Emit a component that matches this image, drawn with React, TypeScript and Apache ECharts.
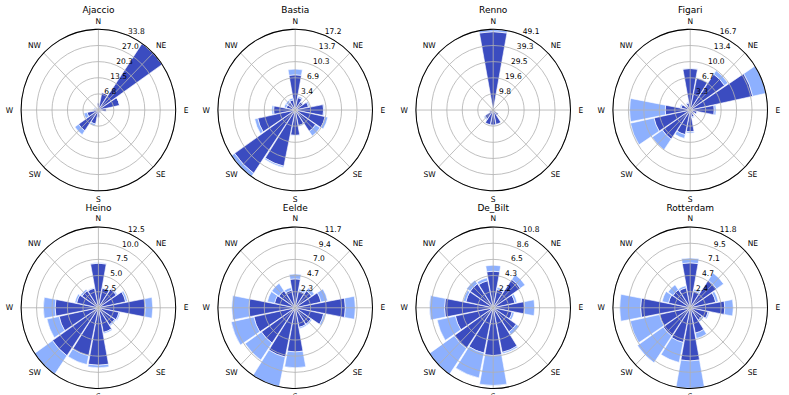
import React, { useEffect, useRef } from "react";
import * as echarts from "echarts";

// ---- data ----
const directions = ["N", "NNE", "NE", "ENE", "E", "ESE", "SE", "SSE", "S", "SSW", "SW", "WSW", "W", "WNW", "NW", "NNW"];
const compassLabels = ["N", "NE", "E", "SE", "S", "SW", "W", "NW"];
const stations = ["Ajaccio", "Bastia", "Renno", "Figari", "Heino", "Eelde", "De_Bilt", "Rotterdam"];
const radialMax = [33.8, 17.16, 49.1, 16.7, 12.5, 11.7, 10.8, 11.84];
const radialTickLabels = [
  ["6.8", "13.5", "20.3", "27.0", "33.8"],
  ["3.4", "6.9", "10.3", "13.7", "17.2"],
  ["9.8", "19.6", "29.5", "39.3", "49.1"],
  ["3.3", "6.7", "10.0", "13.4", "16.7"],
  ["2.5", "5.0", "7.5", "10.0", "12.5"],
  ["2.3", "4.7", "7.0", "9.4", "11.7"],
  ["2.2", "4.3", "6.5", "8.6", "10.8"],
  ["2.4", "4.7", "7.1", "9.5", "11.8"],
];

const ajaccioLow = [3.0, 7.5, 33.8, 9.5, 3.5, 1.5, 1.0, 1.5, 3.0, 6.0, 10.5, 5.0, 2.0, 1.5, 1.0, 1.0];
const ajaccioHigh = [0, 0, 0, 0, 0, 0, 0, 0, 0.3, 0.8, 2.0, 1.5, 0.5, 0.5, 0.2, 0];
const bastiaLow = [7.5, 2.7, 2.0, 3.0, 6.3, 6.8, 5.5, 3.4, 5.4, 12.2, 16.3, 8.5, 4.8, 2.0, 2.0, 2.2];
const bastiaHigh = [1.2, 0.3, 0.2, 0.3, 0.2, 0.6, 1.2, 0.2, 0.1, 0.3, 0.86, 0.7, 0.4, 0.5, 0.5, 0.4];
const rennoLow = [47.7, 1.0, 0.5, 0.5, 1.0, 1.5, 4.0, 9.0, 9.2, 9.2, 6.5, 2.5, 1.0, 0.5, 0.5, 0.5];
const rennoHigh = [1.4, 0, 0, 0, 0, 0, 0, 0.2, 0.2, 0.3, 0.8, 0.5, 0.2, 0, 0, 0];
const figariLow = [8.6, 6.8, 9.0, 13.8, 5.2, 1.5, 1.0, 1.5, 4.5, 5.2, 7.3, 8.0, 5.4, 2.0, 1.0, 1.5];
const figariHigh = [0.1, 0.1, 0.9, 2.9, 0.4, 0.1, 0.1, 0.2, 0.3, 0.8, 2.7, 5.2, 7.7, 0.3, 0.2, 0.2];
const heinoLow = [6.9, 3.1, 3.5, 4.5, 7.6, 3.4, 3.2, 3.9, 8.9, 7.6, 9.0, 6.5, 7.0, 3.6, 3.2, 3.1];
const heinoHigh = [0.1, 0.1, 0.2, 0.3, 1.2, 0.2, 0.2, 0.2, 0.4, 1.4, 3.5, 2.0, 1.9, 0.3, 0.3, 0.1];
const eeldeLow = [4.2, 2.5, 3.0, 4.0, 7.6, 4.4, 2.9, 2.9, 6.4, 7.3, 6.2, 6.4, 7.0, 3.2, 3.0, 2.6];
const eeldeHigh = [0.7, 0.3, 0.5, 1.0, 1.5, 0.3, 0.2, 0.2, 2.3, 4.4, 3.0, 3.5, 2.6, 1.1, 1.3, 0.4];
const deBiltLow = [4.9, 2.5, 4.6, 3.1, 4.4, 2.7, 3.9, 6.1, 6.4, 6.2, 6.6, 5.4, 6.8, 3.9, 3.9, 3.7];
const deBiltHigh = [0.8, 0.3, 0.8, 0.3, 1.4, 0.3, 0.5, 0.2, 4.0, 3.4, 4.2, 2.6, 2.1, 0.4, 0.6, 0.4];
const rotterdamLow = [6.6, 2.5, 4.9, 4.0, 5.3, 2.8, 2.2, 3.8, 7.8, 5.2, 5.0, 4.8, 7.6, 3.4, 3.2, 3.0];
const rotterdamHigh = [0.7, 0.3, 1.3, 0.4, 1.3, 0.2, 0.3, 0.8, 4.04, 3.0, 4.8, 4.6, 3.2, 1.0, 0.9, 0.3];

const lowBin = [ajaccioLow, bastiaLow, rennoLow, figariLow, heinoLow, eeldeLow, deBiltLow, rotterdamLow];
const highBin = [ajaccioHigh, bastiaHigh, rennoHigh, figariHigh, heinoHigh, eeldeHigh, deBiltHigh, rotterdamHigh];

// ---- layout / style ----
const W = 789;
const H = 395;
const SY = 1.044;
const H0 = H / SY;
const CX = [98.4, 295.2, 493.2, 690.2];
const CY = [105.4, 294.8];
const TITLE_TOP = [4.6, 194.5];
const R = 77.3;
const FONT = "DejaVu Sans";
const GRID = "#b0b0b0";
const DARK = "#3b4cc0";
const LIGHT = "#8db0fe";

function buildOption() {
  const polar: any[] = [];
  const angleAxis: any[] = [];
  const radiusAxis: any[] = [];
  const series: any[] = [];
  const title: any[] = [];

  stations.forEach((name, i) => {
    const cx = CX[i % 4];
    const row = Math.floor(i / 4);
    const cy = CY[row];
    const rmax = radialMax[i];
    const step = rmax / 5;
    const base = i * 3;

    for (let k = 0; k < 3; k++) polar.push({ center: [cx, cy], radius: R });

    // bars polar
    angleAxis.push({
      polarIndex: base,
      type: "category",
      data: directions,
      startAngle: 90 + 11.25,
      clockwise: true,
      boundaryGap: true,
      axisLine: { show: false },
      axisTick: { show: false },
      axisLabel: { show: false },
      splitLine: { show: false },
    });
    radiusAxis.push({
      polarIndex: base,
      type: "value",
      min: 0,
      max: rmax,
      axisLine: { show: false },
      axisTick: { show: false },
      axisLabel: { show: false },
      splitLine: { show: false },
    });

    // grid polar (drawn above bars)
    angleAxis.push({
      polarIndex: base + 1,
      type: "value",
      min: 0,
      max: 360,
      interval: 45,
      startAngle: 90,
      clockwise: true,
      z: 10,
      axisLine: { show: true, lineStyle: { color: "#000", width: 1 } },
      axisTick: { show: false },
      splitLine: { show: true, lineStyle: { color: GRID, width: 0.8 } },
      axisLabel: {
        show: true,
        margin: 4,
        fontSize: 7.5,
        color: "#000",
        fontFamily: FONT,
        formatter: (v: number) => {
          if (v >= 360) return "";
          const lab = compassLabels[Math.round(v / 45) % 8];
          if (lab === "E") return "{e|E}";
          if (lab === "W") return "{w|W}";
          return lab;
        },
        rich: {
          e: { padding: [0, 0, 0, 4], fontSize: 7.5, color: "#000", fontFamily: FONT },
          w: { padding: [0, 4, 0, 0], fontSize: 7.5, color: "#000", fontFamily: FONT },
        },
      },
    });
    radiusAxis.push({
      polarIndex: base + 1,
      type: "value",
      min: 0,
      max: rmax,
      interval: step,
      z: 10,
      axisLine: { show: false },
      axisTick: { show: false },
      axisLabel: { show: false },
      splitLine: { show: true, lineStyle: { color: GRID, width: 0.8 } },
    });

    // radial labels polar (labels at 22.5° east of north)
    angleAxis.push({
      polarIndex: base + 2,
      type: "value",
      min: 0,
      max: 360,
      startAngle: 67.5,
      clockwise: true,
      show: false,
    });
    radiusAxis.push({
      polarIndex: base + 2,
      type: "value",
      min: 0,
      max: rmax,
      interval: step,
      z: 11,
      axisLine: { show: false },
      axisTick: { show: false },
      splitLine: { show: false },
      axisLabel: {
        show: true,
        showMinLabel: false,
        margin: 0,
        align: "left",
        verticalAlign: "bottom",
        fontSize: 7.5,
        color: "#000",
        fontFamily: FONT,
        formatter: (v: number) => {
          const k = Math.round(v / step);
          return k > 0 && k <= 5 ? radialTickLabels[i][k - 1] : "";
        },
      },
    });

    series.push(
      {
        type: "bar",
        coordinateSystem: "polar",
        polarIndex: base,
        stack: "s" + i,
        data: lowBin[i],
        barCategoryGap: "6%",
        z: 2,
        itemStyle: { color: DARK, borderColor: "#fff", borderWidth: 0.6 },
      },
      {
        type: "bar",
        coordinateSystem: "polar",
        polarIndex: base,
        stack: "s" + i,
        data: highBin[i],
        barCategoryGap: "6%",
        z: 2,
        itemStyle: { color: LIGHT, borderColor: "#fff", borderWidth: 0.6 },
      }
    );

    title.push({
      text: name,
      left: cx,
      top: TITLE_TOP[row],
      textAlign: "center",
      padding: 0,
      textStyle: { fontSize: 9, fontWeight: "normal", color: "#000", fontFamily: FONT },
    });
  });

  return {
    animation: false,
    backgroundColor: "#fff",
    title,
    polar,
    angleAxis,
    radiusAxis,
    series,
  };
}

export default function App() {
  const ref = useRef<HTMLDivElement>(null);
  useEffect(() => {
    document.body.style.margin = "0";
    if (!ref.current) return;
    const chart = echarts.init(ref.current, null, { renderer: "svg" });
    chart.setOption(buildOption() as any);
    return () => chart.dispose();
  }, []);
  return (
    <div style={{ width: W, height: H, overflow: "hidden", background: "#fff" }}>
      <div
        ref={ref}
        style={{ width: W, height: H0, transform: `scaleY(${SY})`, transformOrigin: "0 0" }}
      />
    </div>
  );
}
